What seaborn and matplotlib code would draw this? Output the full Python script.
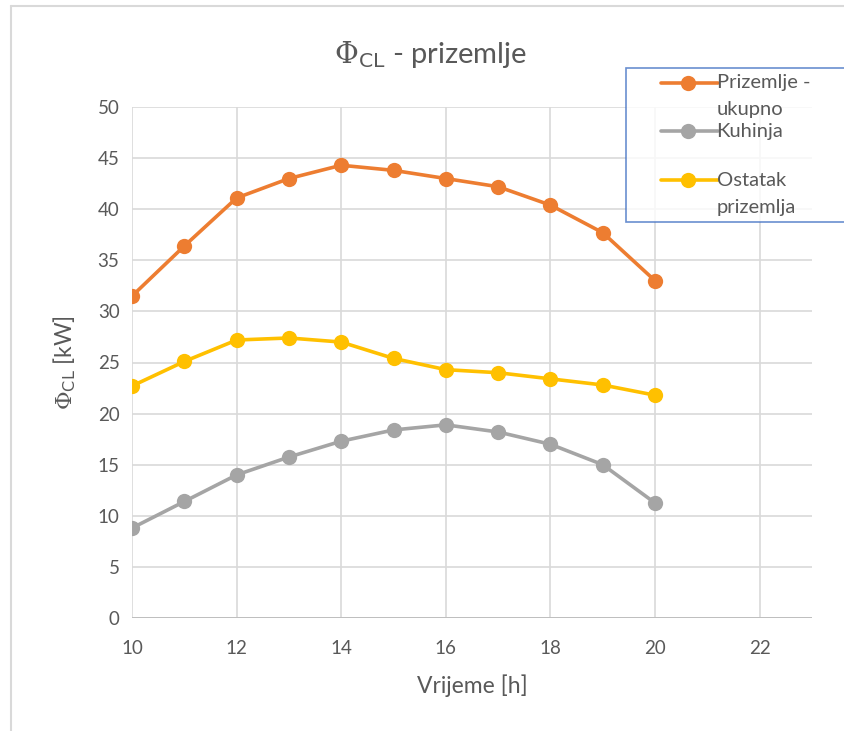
import matplotlib
matplotlib.use("Agg")
import matplotlib.pyplot as plt
from matplotlib.lines import Line2D
from matplotlib.legend_handler import HandlerLine2D
import seaborn as sns
import pandas as pd

hours = [10, 11, 12, 13, 14, 15, 16, 17, 18, 19, 20]
ukupno = [31.5, 36.4, 41.1, 43.0, 44.3, 43.8, 43.0, 42.2, 40.4, 37.7, 33.0]
kuhinja = [8.8, 11.4, 14.0, 15.75, 17.3, 18.4, 18.9, 18.2, 17.0, 15.0, 11.25]
ostatak = [22.7, 25.1, 27.2, 27.4, 27.0, 25.4, 24.3, 24.0, 23.4, 22.8, 21.8]
series_names = ["Prizemlje -\nukupno", "Kuhinja", "Ostatak\nprizemlja"]
colors = ["#ED7D31", "#A5A5A5", "#FFC000"]
x_ticks = [10, 12, 14, 16, 18, 20, 22]
y_ticks = [0, 5, 10, 15, 20, 25, 30, 35, 40, 45, 50]

rows = []
for name, vals in zip(series_names, [ukupno, kuhinja, ostatak]):
    for h, v in zip(hours, vals):
        rows.append({"h": h, "v": v, "s": name})
df = pd.DataFrame(rows)

sns.set_theme(style="white")
plt.rcParams["font.family"] = ["Lato", "DejaVu Sans"]
plt.rcParams["mathtext.fontset"] = "dejavuserif"
txt = "#595959"

fig = plt.figure(figsize=(8.44, 7.31), dpi=100)
ax = fig.add_axes([132 / 844, 1 - 618 / 731, (812 - 132) / 844, (618 - 107) / 731])

sns.lineplot(data=df, x="h", y="v", hue="s", palette=colors, hue_order=series_names,
             marker="o", markersize=11, markeredgewidth=0, linewidth=2.6,
             legend=False, ax=ax, zorder=3)

ax.set_xlim(10, 23)
ax.set_ylim(0, 50)
ax.set_xticks(x_ticks)
ax.set_yticks(y_ticks)
ax.grid(True, color="#D9D9D9", linewidth=1.2)
for s in ax.spines.values():
    s.set_visible(False)
ax.axhline(0, color="#BFBFBF", linewidth=1.4, zorder=2)
ax.tick_params(axis="both", length=0, labelsize=13.5, colors=txt)
ax.tick_params(axis="x", pad=16)
ax.tick_params(axis="y", pad=9)
ax.set_xlabel("Vrijeme [h]", fontsize=16.5, color=txt, labelpad=12)
ax.set_ylabel(r"$\Phi_{\mathsf{CL}}$ [kW]", fontsize=16.5, color=txt, labelpad=14)

fig.text(430 / 844, 1 - 55 / 731, r"$\Phi_{\mathsf{CL}}$ - prizemlje", fontsize=21,
         color=txt, ha="center", va="center")


class UpHandler(HandlerLine2D):
    def create_artists(self, legend, orig_handle, xdescent, ydescent, width, height,
                       fontsize, trans):
        shift = fontsize * 0.66
        x0 = 21
        line = Line2D([x0, width + 2], [height / 2 + shift] * 2, color=orig_handle.get_color(),
                      linewidth=orig_handle.get_linewidth())
        mk = Line2D([(x0 + width) / 2], [height / 2 + shift], color=orig_handle.get_color(),
                    marker="o", markersize=orig_handle.get_markersize(), markeredgewidth=0,
                    linestyle="none")
        for a in (line, mk):
            a.set_transform(trans)
        return [line, mk]


handles = [Line2D([0], [0], color=c, marker="o", markersize=11, markeredgewidth=0,
                  linewidth=2.6) for c in colors]
labels = ["Prizemlje -\nukupno", "Kuhinja\n", "Ostatak\nprizemlja"]
leg = fig.legend(handles, labels, loc="upper left", mode="expand",
                 bbox_to_anchor=(626 / 844, 1 - 68 / 731 - 0.2, 0.3, 0.2), fontsize=14.5,
                 frameon=True, fancybox=False, borderpad=0.3, labelspacing=0.25,
                 handlelength=4.15, handletextpad=0.05, borderaxespad=0.0,
                 handler_map={Line2D: UpHandler()})
leg.get_frame().set_edgecolor("#4472C4")
leg.get_frame().set_linewidth(1.2)
for t in leg.get_texts():
    t.set_color(txt)
    t.set_linespacing(1.7)

# outer chart border (left and top)
fig.add_artist(Line2D([11 / 844, 11 / 844], [0, 1 - 6 / 731], color="#D9D9D9", linewidth=1.5,
                      transform=fig.transFigure))
fig.add_artist(Line2D([11 / 844, 1], [1 - 6 / 731, 1 - 6 / 731], color="#D9D9D9", linewidth=1.5,
                      transform=fig.transFigure))

fig.savefig("out.png", dpi=100)
